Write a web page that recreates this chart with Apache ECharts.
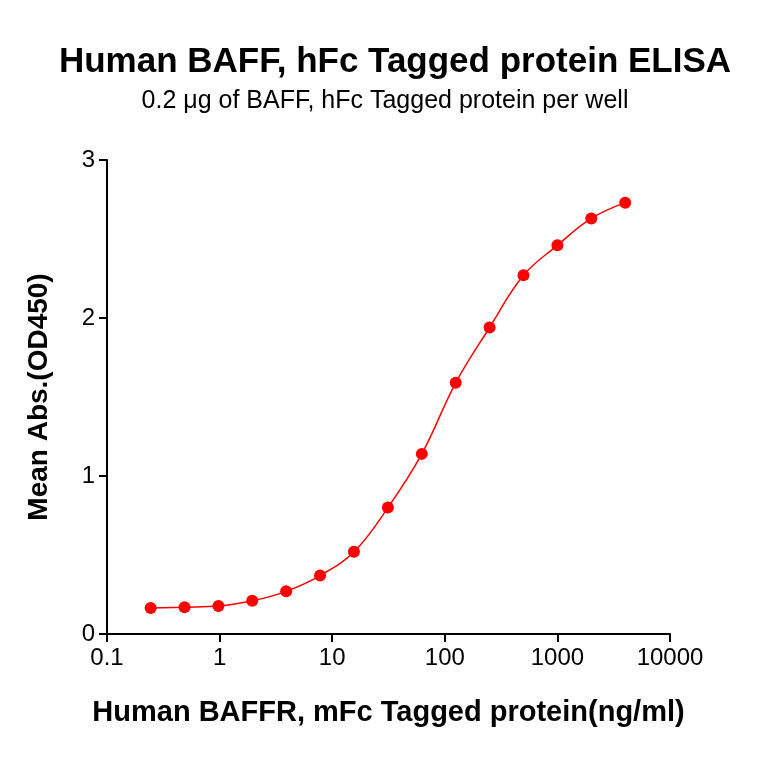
<!DOCTYPE html>
<html>
<head>
<meta charset="UTF-8">
<script src="https://cdn.jsdelivr.net/npm/echarts@6/dist/echarts.min.js"></script>
</head>
<body style="margin:0">
<div id="main" style="width:764px;height:764px;"></div>
<script>
  var conc = [0.244, 0.488, 0.977, 1.95, 3.9, 7.8, 15.6, 31.25, 62.5, 125, 250, 500, 1000, 2000, 4000];
  var od = [0.165, 0.17, 0.177, 0.21, 0.27, 0.37, 0.52, 0.80, 1.14, 1.59, 1.94, 2.27, 2.46, 2.63, 2.73];

  var pts = conc.map(function (c, i) { return [c, od[i]]; });
  var chart = echarts.init(document.getElementById('main'));
  var font = 'Arial, "Liberation Sans", sans-serif';

  chart.setOption({
    animation: false,
    title: [{
      text: 'Human BAFF, hFc Tagged protein ELISA',
      left: 390, top: 40, textAlign: 'center',
      textStyle: { fontFamily: font, fontSize: 35, fontWeight: 'bold', color: '#000' }
    }, {
      text: '0.2 μg of BAFF, hFc Tagged protein per well',
      left: 380, top: 84, textAlign: 'center',
      textStyle: { fontFamily: font, fontSize: 25, fontWeight: 'normal', color: '#000' }
    }],
    grid: { left: 107, right: 94, top: 160, bottom: 130 },
    xAxis: {
      type: 'log', min: 0.1, max: 10000, logBase: 10,
      name: 'Human BAFFR, mFc Tagged protein(ng/ml)',
      nameLocation: 'middle', nameGap: 64,
      nameTextStyle: { fontFamily: font, fontSize: 29, fontWeight: 'bold', color: '#000' },
      axisLine: { lineStyle: { color: '#000', width: 2 } },
      axisTick: { inside: false, length: 8, lineStyle: { width: 2 } },
      axisLabel: { fontFamily: font, fontSize: 24, color: '#000', margin: 12,
        formatter: function (v) { return String(v); } },
      splitLine: { show: false }
    },
    yAxis: {
      type: 'value', min: 0, max: 3, interval: 1,
      name: 'Mean Abs.(OD450)',
      nameLocation: 'middle', nameGap: 54,
      nameTextStyle: { fontFamily: font, fontSize: 28, fontWeight: 'bold', color: '#000' },
      axisLine: { show: true, lineStyle: { color: '#000', width: 2 } },
      axisTick: { show: true, length: 8, lineStyle: { width: 2 } },
      axisLabel: { fontFamily: font, fontSize: 24, color: '#000', margin: 12 },
      splitLine: { show: false }
    },
    series: [{
      type: 'line',
      data: pts,
      smooth: 0.4,
      symbol: 'circle',
      symbolSize: 12,
      itemStyle: { color: '#ff0000' },
      lineStyle: { color: '#ff0000', width: 1.5 }
    }]
  });
</script>
</body>
</html>
